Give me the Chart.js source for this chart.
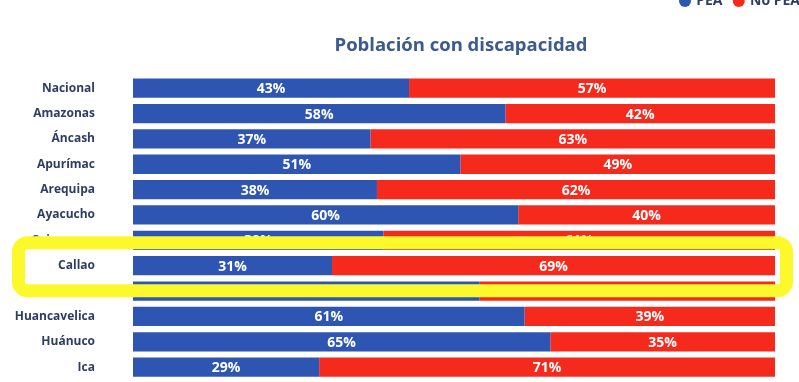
<!DOCTYPE html>
<html><head><meta charset="utf-8">
<script src="https://cdn.jsdelivr.net/npm/chart.js@4.4.0/dist/chart.umd.min.js"></script>
<style>
html,body{margin:0;padding:0;background:#fff;overflow:hidden;width:799px;height:382px;position:relative;}
#c{position:absolute;left:0;top:-18px;}
</style></head><body>
<canvas id="c" width="812" height="443"></canvas>
<script>
const categories = ['Nacional','Amazonas','Áncash','Apurímac','Arequipa','Ayacucho','Cajamarca','Callao','Cusco','Huancavelica','Huánuco','Ica'];
const peaValues = [43,58,37,51,38,60,39,31,54,61,65,29];
const noPeaValues = [57,42,63,49,62,40,61,69,46,39,35,71];
const seriesLabels = ['PEA','No PEA'];
const chartTitle = 'Población con discapacidad';
const highlightCategory = 'Callao';

const BLUE = '#2f55b3';
const RED = '#f5291c';
const FONT = "'Open Sans', 'Noto Sans', sans-serif";

const labelPlugin = {
  id: 'segLabels',
  afterDatasetsDraw(chart) {
    const ctx = chart.ctx;
    ctx.save();
    ctx.fillStyle = '#ffffff';
    ctx.font = "bold 14px " + FONT;
    ctx.textAlign = 'center';
    ctx.textBaseline = 'middle';
    chart.data.datasets.forEach((ds, di) => {
      const meta = chart.getDatasetMeta(di);
      meta.data.forEach((bar, i) => {
        const p = bar.getProps(['x', 'y', 'base'], true);
        ctx.fillText(ds.data[i] + '%', (p.x + p.base) / 2, p.y + 1);
      });
    });
    ctx.restore();
  }
};

const framePlugin = {
  id: 'highlightFrame',
  afterLayout(chart) {
    chart.titleBlock.left += 7;
    chart.titleBlock.right += 7;
  },
  afterDraw(chart) {
    const idx = categories.indexOf(highlightCategory);
    const yc = chart.scales.y.getPixelForValue(idx);
    const ca = chart.chartArea;
    const ctx = chart.ctx;
    ctx.save();
    ctx.strokeStyle = '#fbf92b';
    ctx.lineWidth = 13;
    ctx.beginPath();
    const x0 = 18.5, x1 = ca.right + 11.5;
    ctx.roundRect(x0, yc - 23, x1 - x0, 48, 9);
    ctx.stroke();
    ctx.restore();
  }
};

new Chart(document.getElementById('c'), {
  type: 'bar',
  data: {
    labels: categories,
    datasets: [
      { label: seriesLabels[0], data: peaValues, backgroundColor: BLUE, yAxisID: 'y', xAxisID: 'x', barPercentage: 0.76, categoryPercentage: 1 },
      { label: seriesLabels[1], data: noPeaValues, backgroundColor: RED, yAxisID: 'y', xAxisID: 'x', barPercentage: 0.76, categoryPercentage: 1 }
    ]
  },
  options: {
    indexAxis: 'y',
    responsive: false,
    animation: false,
    devicePixelRatio: 1,
    layout: { padding: 0 },
    scales: {
      x: { stacked: true, min: 0, max: 100, display: false },
      y: {
        stacked: true,
        grid: { display: false, drawTicks: false },
        border: { display: false },
        ticks: { padding: 38, color: '#2e3d66', font: { family: FONT, weight: 'bold', size: 12 } },
        afterFit: s => { s.width = 133; }
      },
      yr: {
        type: 'linear',
        position: 'right',
        display: true,
        grid: { display: false, drawTicks: false },
        border: { display: false },
        ticks: { display: false },
        afterFit: s => { s.width = 37; }
      }
    },
    plugins: {
      legend: {
        position: 'top',
        align: 'end',
        weight: 3000,
        labels: {
          usePointStyle: true,
          pointStyle: 'circle',
          boxWidth: 8.5,
          boxHeight: 8.5,
          padding: 12,
          color: '#2e3d66',
          font: { family: FONT, weight: 'bold', size: 14 }
        }
      },
      title: {
        display: true,
        text: chartTitle,
        fullSize: false,
        weight: 100,
        color: '#3b5a8e',
        font: { family: FONT, weight: 'bold', size: 18.5 },
        padding: { top: 17, bottom: 18.3 }
      },
      tooltip: { enabled: false }
    }
  },
  plugins: [labelPlugin, framePlugin]
});
</script>
</body></html>
